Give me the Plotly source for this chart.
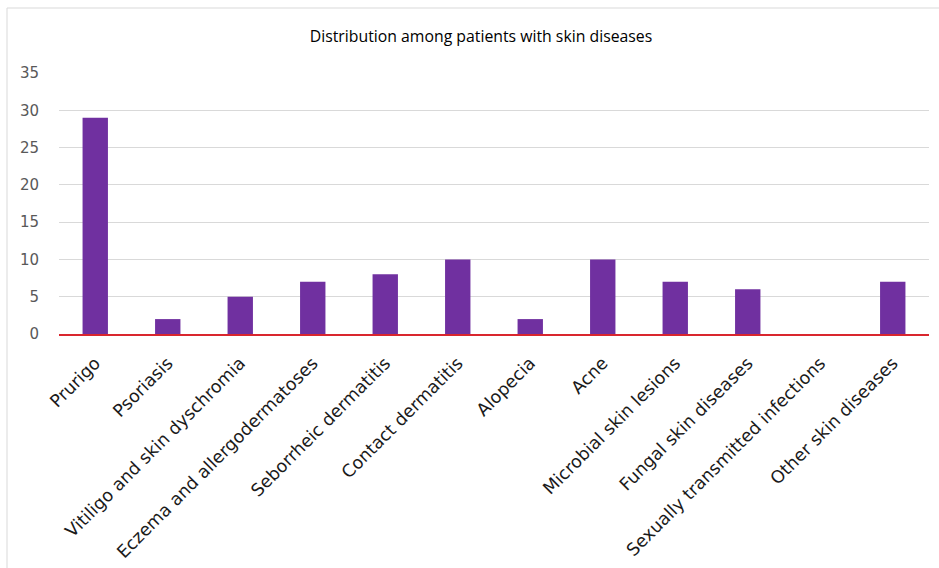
import plotly.graph_objects as go

categories = ["Prurigo", "Psoriasis", "Vitiligo and skin dyschromia",
              "Eczema and allergodermatoses", "Seborrheic dermatitis",
              "Contact dermatitis", "Alopecia", "Acne", "Microbial skin lesions",
              "Fungal skin diseases", "Sexually transmitted infections",
              "Other skin diseases"]
values = [29, 2, 5, 7, 8, 10, 2, 10, 7, 6, 0, 7]
y_ticks = [0, 5, 10, 15, 20, 25, 30, 35]
title = "Distribution among patients with skin diseases"

W, H = 939, 568
ml, mr, mt, mb = 59, 10, 73, 234
pw, ph = W - ml - mr, H - mt - mb

fig = go.Figure(go.Bar(x=categories, y=values, marker=dict(color="#7030A0",
                line=dict(width=0)), width=0.35))

fig.update_layout(
    width=W, height=H,
    margin=dict(l=ml, r=mr, t=mt, b=mb, pad=0, autoexpand=False),
    paper_bgcolor="white", plot_bgcolor="white",
    showlegend=False,
    bargap=0.65,
    title=dict(text=title, x=(481 - ml) / pw, xref="paper", xanchor="center",
               y=1 - 36 / H, yanchor="middle",
               font=dict(family="Open Sans", size=15.8, color="#000000")),
    font=dict(family="DejaVu Sans"),
)
fig.update_xaxes(tickangle=-45, showgrid=False, showline=True, linecolor="#D9262E",
                 linewidth=2, ticks="outside", ticklen=10, tickcolor="rgba(0,0,0,0)",
                 automargin=False,
                 tickfont=dict(family="DejaVu Sans", size=17.5, color="#1a1a1a"))
fig.update_yaxes(range=[0, 35], tickvals=y_ticks, showgrid=True, gridcolor="#D9D9D9",
                 gridwidth=1, zeroline=False, showline=False, automargin=False,
                 tickfont=dict(family="DejaVu Sans", size=15, color="#595959"),
                 ticks="outside", ticklen=16, tickcolor="rgba(0,0,0,0)")

# outer chart border
fig.add_shape(type="rect", xref="paper", yref="paper",
              x0=(7 - ml) / pw, x1=(945 - ml) / pw,
              y0=(H - mb - 580) / ph, y1=(H - mb - 8) / ph,
              line=dict(color="#D9D9D9", width=1), fillcolor="rgba(0,0,0,0)", layer="below")

fig.write_html("out.html")
